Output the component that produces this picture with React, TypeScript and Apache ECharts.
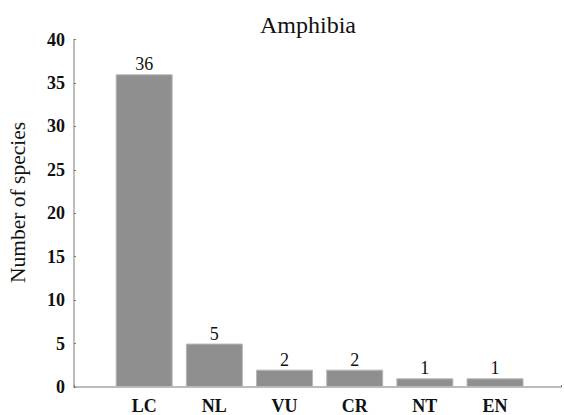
import React, { useEffect, useRef } from "react";
import * as echarts from "echarts";

const categories = ["LC", "NL", "VU", "CR", "NT", "EN"];
const values = [36, 5, 2, 2, 1, 1];
const yTicks = [0, 5, 10, 15, 20, 25, 30, 35, 40];
const titleText = "Amphibia";
const yName = "Number of species";

const FONT = "Liberation Serif, serif";

export default function App() {
  const ref = useRef<HTMLDivElement>(null);
  useEffect(() => {
    document.body.style.margin = "0";
    const chart = echarts.init(ref.current!, null, { renderer: "svg" });
    const option = {
      animation: false,
      backgroundColor: "#ffffff",
      textStyle: { fontFamily: FONT },
      title: {
        text: titleText,
        left: 255,
        top: 8,
        textStyle: { fontFamily: FONT, fontSize: 24, fontWeight: "normal", color: "#111" },
      },
      grid: { left: 74, right: 0, top: 39.5, bottom: 24.5, containLabel: false },
      xAxis: {
        type: "value",
        min: 0,
        max: 6.94,
        interval: 1,
        axisLine: { show: true, lineStyle: { color: "#a6a6a6", width: 1.5 } },
        axisTick: { show: true, inside: true, length: 2, lineStyle: { color: "#777" } },
        splitLine: { show: false },
        axisLabel: {
          margin: 10,
          fontFamily: FONT,
          fontSize: 18,
          fontWeight: "bold",
          color: "#111",
          showMinLabel: true,
          showMaxLabel: true,
          formatter: (v: number) => {
            const i = Math.round(v);
            if (Math.abs(v - i) > 1e-6 || i < 1 || i > categories.length) return "";
            return categories[i - 1];
          },
        },
      },
      yAxis: {
        type: "value",
        min: yTicks[0],
        max: yTicks[yTicks.length - 1],
        interval: 5,
        axisLine: { show: true, lineStyle: { color: "#a6a6a6", width: 1.5 } },
        axisTick: { show: true, inside: true, length: 2, lineStyle: { color: "#777" } },
        splitLine: { show: false },
        axisLabel: {
          margin: 9,
          fontFamily: FONT,
          fontSize: 18,
          fontWeight: "bold",
          color: "#111",
        },
      },
      graphic: [
        {
          type: "text",
          x: 18,
          y: 202.5,
          rotation: Math.PI / 2,
          style: {
            text: yName,
            fontFamily: FONT,
            fontSize: 21.5,
            fontWeight: "normal",
            fill: "#111",
            align: "center",
            verticalAlign: "middle",
          },
        },
      ],
      series: [
        {
          type: "bar",
          data: values.map((v, i) => [i + 1, v]),
          barWidth: 57,
          itemStyle: { color: "#8f8f8f", borderColor: "#b8b8b8", borderWidth: 1 },
          label: {
            show: true,
            position: "top",
            distance: 1,
            fontFamily: FONT,
            fontSize: 18,
            fontWeight: "normal",
            color: "#111",
          },
        },
      ],
    };
    chart.setOption(option as any);
    return () => chart.dispose();
  }, []);
  return <div ref={ref} style={{ width: 564, height: 415 }} />;
}
